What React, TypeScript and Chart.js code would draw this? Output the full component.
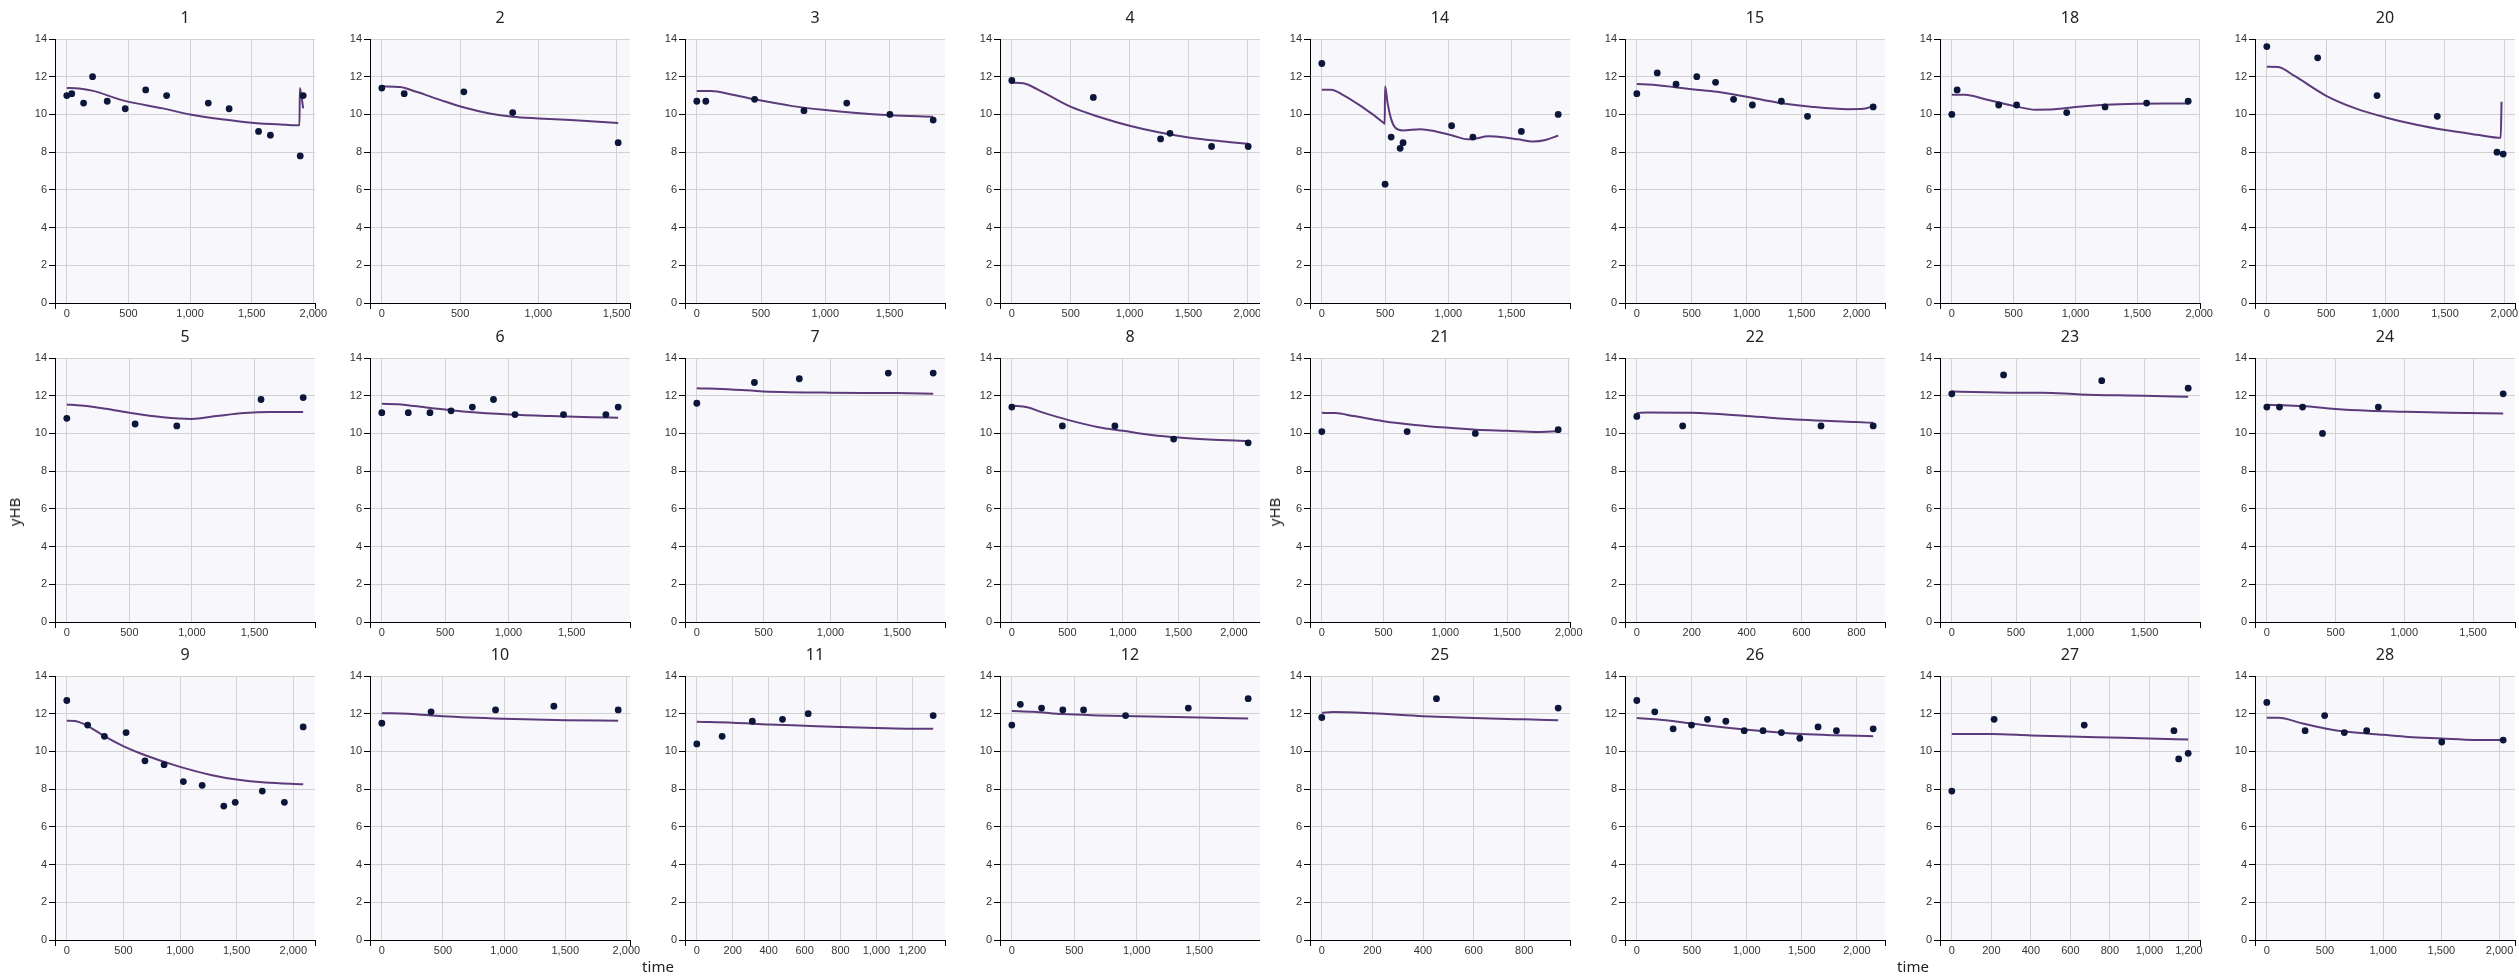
import React, { useEffect, useRef } from "react";
import { Chart, registerables } from "chart.js";

Chart.register(...registerables);

// ---------- DATA ----------
const panelIds = [
  "1", "2", "3", "4", "14", "15", "18", "20",
  "5", "6", "7", "8", "21", "22", "23", "24",
  "9", "10", "11", "12", "25", "26", "27", "28",
];

const xTickStep = [
  500, 500, 500, 500, 500, 500, 500, 500,
  500, 500, 500, 500, 500, 200, 500, 500,
  500, 500, 200, 500, 200, 500, 200, 500,
];

const yTickValues = [0, 2, 4, 6, 8, 10, 12, 14];

const obsTime: number[][] = [
  [0, 40, 136, 209, 328, 474, 640, 810, 1148, 1317, 1556, 1652, 1894, 1918],
  [0, 143, 524, 836, 1510],
  [0, 70, 450, 834, 1167, 1503, 1840],
  [0, 692, 1263, 1343, 1696, 2007],
  [0, 500, 548, 619, 642, 1026, 1194, 1577, 1868],
  [0, 186, 357, 546, 717, 881, 1052, 1316, 1554, 2152],
  [0, 43, 379, 524, 929, 1239, 1575, 1911],
  [0, 428, 928, 1435, 1938, 1990],
  [0, 546, 879, 1552, 1889],
  [0, 209, 380, 547, 715, 882, 1052, 1435, 1770, 1867],
  [0, 431, 767, 1433, 1769],
  [0, 455, 928, 1457, 2128],
  [0, 691, 1243, 1914],
  [0, 167, 671, 861],
  [0, 403, 1167, 1840],
  [0, 92, 260, 405, 811, 1719],
  [0, 184, 332, 523, 690, 859, 1029, 1195, 1386, 1487, 1726, 1921, 2087],
  [0, 403, 930, 1407, 1933],
  [0, 141, 309, 477, 620, 1316],
  [0, 68, 238, 408, 574, 910, 1412, 1891],
  [0, 453, 934],
  [0, 163, 330, 497, 642, 809, 976, 1147, 1314, 1481, 1647, 1814, 2148],
  [0, 214, 670, 1124, 1148, 1196],
  [0, 329, 497, 666, 858, 1503, 2031],
];

const obsHB: number[][] = [
  [11.0, 11.1, 10.6, 12.0, 10.7, 10.3, 11.3, 11.0, 10.6, 10.3, 9.1, 8.9, 7.8, 11.0],
  [11.4, 11.1, 11.2, 10.1, 8.5],
  [10.7, 10.7, 10.8, 10.2, 10.6, 10.0, 9.7],
  [11.8, 10.9, 8.7, 9.0, 8.3, 8.3],
  [12.7, 6.3, 8.8, 8.2, 8.5, 9.4, 8.8, 9.1, 10.0],
  [11.1, 12.2, 11.6, 12.0, 11.7, 10.8, 10.5, 10.7, 9.9, 10.4],
  [10.0, 11.3, 10.5, 10.5, 10.1, 10.4, 10.6, 10.7],
  [13.6, 13.0, 11.0, 9.9, 8.0, 7.9],
  [10.8, 10.5, 10.4, 11.8, 11.9],
  [11.1, 11.1, 11.1, 11.2, 11.4, 11.8, 11.0, 11.0, 11.0, 11.4],
  [11.6, 12.7, 12.9, 13.2, 13.2],
  [11.4, 10.4, 10.4, 9.7, 9.5],
  [10.1, 10.1, 10.0, 10.2],
  [10.9, 10.4, 10.4, 10.4],
  [12.1, 13.1, 12.8, 12.4],
  [11.4, 11.4, 11.4, 10.0, 11.4, 12.1],
  [12.7, 11.4, 10.8, 11.0, 9.5, 9.3, 8.4, 8.2, 7.1, 7.3, 7.9, 7.3, 11.3],
  [11.5, 12.1, 12.2, 12.4, 12.2],
  [10.4, 10.8, 11.6, 11.7, 12.0, 11.9],
  [11.4, 12.5, 12.3, 12.2, 12.2, 11.9, 12.3, 12.8],
  [11.8, 12.8, 12.3],
  [12.7, 12.1, 11.2, 11.4, 11.7, 11.6, 11.1, 11.1, 11.0, 10.7, 11.3, 11.1, 11.2],
  [7.9, 11.7, 11.4, 11.1, 9.6, 9.9],
  [12.6, 11.1, 11.9, 11.0, 11.1, 10.5, 10.6],
];

const predTime: number[][] = [
  [0, 100, 215, 448, 780, 1000, 1277, 1500, 1775, 1888, 1891, 1918],
  [0, 117, 220, 376, 532, 688, 836, 1000, 1207, 1510],
  [0, 111, 270, 450, 745, 1002, 1221, 1506, 1840],
  [0, 97, 218, 498, 737, 1000, 1256, 1502, 1775, 2007],
  [0, 74, 155, 316, 487, 497, 500, 520, 548, 580, 640, 780, 900, 1026, 1150, 1200, 1316, 1450, 1550, 1671, 1768, 1868],
  [0, 171, 502, 729, 1000, 1286, 1584, 1918, 2067, 2152],
  [0, 105, 270, 468, 682, 830, 998, 1239, 1499, 1720, 1911],
  [0, 96, 233, 500, 747, 1000, 1260, 1500, 1774, 1969, 1976],
  [0, 114, 310, 507, 768, 997, 1193, 1422, 1618, 1889],
  [0, 126, 367, 689, 1011, 1332, 1654, 1867],
  [0, 260, 500, 999, 1500, 1769],
  [0, 139, 268, 503, 782, 1002, 1259, 1501, 1772, 2128],
  [0, 109, 258, 499, 754, 1002, 1250, 1501, 1745, 1914],
  [0, 39, 200, 400, 599, 800, 861],
  [0, 501, 704, 999, 1500, 1840],
  [0, 115, 260, 500, 737, 1000, 1328, 1719],
  [0, 72, 181, 343, 498, 668, 1000, 1282, 1498, 1751, 2087],
  [0, 213, 500, 1000, 1500, 1933],
  [0, 200, 400, 600, 800, 1000, 1200, 1316],
  [0, 173, 408, 694, 1001, 1500, 1891],
  [0, 45, 200, 400, 600, 800, 934],
  [0, 171, 501, 801, 1002, 1321, 1499, 1766, 2000, 2148],
  [0, 200, 400, 600, 800, 1000, 1196],
  [0, 98, 308, 501, 694, 1002, 1219, 1499, 1779, 2025],
];

const predHB: number[][] = [
  [11.4, 11.38, 11.25, 10.76, 10.32, 10.0, 9.73, 9.56, 9.45, 9.42, 11.4, 10.32],
  [11.49, 11.45, 11.2, 10.76, 10.35, 10.05, 9.88, 9.79, 9.7, 9.54],
  [11.24, 11.24, 11.06, 10.8, 10.44, 10.23, 10.09, 9.96, 9.88],
  [11.68, 11.65, 11.33, 10.41, 9.88, 9.4, 9.04, 8.78, 8.58, 8.44],
  [11.31, 11.31, 11.08, 10.41, 9.56, 9.5, 11.49, 10.6, 9.75, 9.3, 9.15, 9.22, 9.1, 8.9, 8.68, 8.7, 8.84, 8.78, 8.68, 8.56, 8.64, 8.88],
  [11.61, 11.56, 11.33, 11.2, 10.94, 10.62, 10.41, 10.28, 10.3, 10.44],
  [11.04, 11.04, 10.81, 10.5, 10.25, 10.27, 10.39, 10.51, 10.57, 10.58, 10.58],
  [12.53, 12.51, 12.04, 10.99, 10.32, 9.84, 9.45, 9.17, 8.92, 8.76, 10.67],
  [11.54, 11.48, 11.31, 11.09, 10.86, 10.77, 10.92, 11.08, 11.13, 11.13],
  [11.57, 11.55, 11.36, 11.13, 11.0, 10.92, 10.86, 10.83],
  [12.4, 12.33, 12.23, 12.16, 12.14, 12.1],
  [11.48, 11.39, 11.13, 10.72, 10.33, 10.14, 9.92, 9.78, 9.68, 9.59],
  [11.09, 11.08, 10.92, 10.65, 10.45, 10.31, 10.2, 10.14, 10.08, 10.12],
  [11.08, 11.11, 11.09, 10.92, 10.72, 10.6, 10.56],
  [12.23, 12.16, 12.16, 12.07, 12.0, 11.94],
  [11.52, 11.5, 11.45, 11.29, 11.2, 11.15, 11.09, 11.06],
  [11.63, 11.61, 11.36, 10.77, 10.28, 9.85, 9.18, 8.74, 8.51, 8.35, 8.26],
  [12.03, 12.0, 11.86, 11.73, 11.66, 11.63],
  [11.57, 11.52, 11.43, 11.36, 11.29, 11.24, 11.2, 11.2],
  [12.14, 12.1, 11.98, 11.91, 11.86, 11.8, 11.75],
  [12.05, 12.09, 12.02, 11.87, 11.77, 11.7, 11.66],
  [11.77, 11.71, 11.48, 11.27, 11.15, 10.99, 10.92, 10.86, 10.83, 10.81],
  [10.93, 10.92, 10.85, 10.79, 10.74, 10.69, 10.63],
  [11.78, 11.78, 11.48, 11.22, 11.04, 10.88, 10.77, 10.69, 10.61, 10.6],
];

// ---------- LAYOUT / STYLE ----------
const TICK_FONT = "'Liberation Sans', Arial, sans-serif";
const TITLE_FONT = "'Noto Sans', 'Open Sans', sans-serif";
const Y_AXIS_W = 50;
const PLOT_W = 260;
const PLOT_H = 264;
const RIGHT_PAD = 40;
const TOP_SPACE = 39;
const X_AXIS_H = 30;
const CANVAS_W = Y_AXIS_W + PLOT_W + RIGHT_PAD;
const CANVAS_H = TOP_SPACE + PLOT_H + X_AXIS_H;
const ROW_PLOT_TOPS = [39, 358, 676];
const HALF_LEFTS = [0, 1260];
const HALF_WIDTHS = [1260, 1259];
const HALF_AXIS_OFFSET = [55, 50];
const COL_PITCH = 315;

const bgPlugin = {
  id: "plotBg",
  beforeDraw(chart: any) {
    const { ctx, chartArea } = chart;
    ctx.save();
    ctx.fillStyle = "#f8f8fc";
    ctx.fillRect(chartArea.left, chartArea.top, chartArea.right - chartArea.left, chartArea.bottom - chartArea.top);
    ctx.restore();
  },
};

const endTickPlugin = {
  id: "endTicks",
  afterDraw(chart: any) {
    const { ctx, chartArea } = chart;
    ctx.save();
    ctx.strokeStyle = "#000";
    ctx.lineWidth = 1;
    const b = Math.round(chartArea.bottom);
    [chartArea.left, chartArea.right].forEach((x: number) => {
      const px = Math.round(x) + 0.5;
      ctx.beginPath();
      ctx.moveTo(px, b);
      ctx.lineTo(px, b + 6);
      ctx.stroke();
    });
    ctx.restore();
  },
};

function Panel({ idx, left, top }: { idx: number; left: number; top: number }) {
  const ref = useRef<HTMLCanvasElement>(null);
  useEffect(() => {
    const canvas = ref.current;
    if (!canvas) return;
    const maxT = Math.max(...obsTime[idx], ...predTime[idx]);
    const xMin = -0.05 * maxT;
    const xMax = 1.05 * maxT;
    const step = xTickStep[idx];
    const chart = new Chart(canvas, {
      type: "scatter",
      data: {
        datasets: [
          {
            label: "observed",
            data: obsTime[idx].map((t, i) => ({ x: t, y: obsHB[idx][i] })),
            showLine: false,
            pointRadius: 3.4,
            pointHoverRadius: 3.4,
            pointBackgroundColor: "#0b1638",
            pointBorderColor: "#0b1638",
            pointBorderWidth: 0,
          },
          {
            label: "predicted",
            data: predTime[idx].map((t, i) => ({ x: t, y: predHB[idx][i] })),
            showLine: true,
            pointRadius: 0,
            pointHoverRadius: 0,
            borderColor: "#5c3b7a",
            borderWidth: 2,
            cubicInterpolationMode: "monotone",
            fill: false,
          },
        ],
      } as any,
      options: {
        responsive: false,
        animation: false,
        devicePixelRatio: 1,
        events: [],
        layout: { padding: { top: 0, left: 0, right: RIGHT_PAD, bottom: 0 } },
        plugins: {
          legend: { display: false },
          tooltip: { enabled: false },
          title: {
            display: true,
            text: panelIds[idx],
            fullSize: false,
            color: "#222",
            font: { family: TITLE_FONT, size: 16, weight: "normal" as any, lineHeight: 1.2 },
            padding: { top: 8.4, bottom: 11.4 },
          },
        },
        scales: {
          x: {
            type: "linear",
            min: xMin,
            max: xMax,
            afterBuildTicks: (axis: any) => {
              const ticks: { value: number }[] = [];
              for (let v = Math.ceil(axis.min / step) * step + 0; v <= axis.max + 1e-9; v += step) {
                ticks.push({ value: v + 0 });
              }
              axis.ticks = ticks;
            },
            afterFit: (s: any) => {
              s.height = X_AXIS_H;
            },
            grid: { color: "#d2d2d2", drawTicks: false, lineWidth: 1 },
            border: { display: true, color: "#000", width: 1 },
            ticks: {
              padding: 4,
              color: "#333",
              autoSkip: false,
              maxRotation: 0,
              font: { family: TICK_FONT, size: 11 },
              callback: (v: any) => Number(v).toLocaleString("en-US"),
            },
          },
          y: {
            type: "linear",
            min: yTickValues[0],
            max: yTickValues[yTickValues.length - 1],
            afterBuildTicks: (axis: any) => {
              axis.ticks = yTickValues.map((v) => ({ value: v }));
            },
            afterFit: (s: any) => {
              s.width = Y_AXIS_W;
            },
            grid: { color: "#d2d2d2", tickColor: "#000", tickLength: 6, lineWidth: 1 },
            border: { display: true, color: "#000", width: 1 },
            ticks: {
              padding: 2,
              color: "#333",
              font: { family: TICK_FONT, size: 11 },
            },
          },
        },
      } as any,
      plugins: [bgPlugin, endTickPlugin],
    });
    return () => chart.destroy();
  }, [idx]);
  return (
    <canvas
      ref={ref}
      width={CANVAS_W}
      height={CANVAS_H}
      style={{ position: "absolute", left, top, width: CANVAS_W, height: CANVAS_H }}
    />
  );
}

export default function App() {
  const halves = [0, 1];
  return (
    <div
      style={{
        position: "absolute",
        left: 0,
        top: 0,
        width: 2519,
        height: 976,
        background: "#fff",
        overflow: "hidden",
      }}
    >
      {halves.map((h) => (
        <div
          key={h}
          style={{
            position: "absolute",
            left: HALF_LEFTS[h],
            top: 0,
            width: HALF_WIDTHS[h],
            height: 976,
            overflow: "hidden",
          }}
        >
          {[0, 1, 2].map((r) =>
            [0, 1, 2, 3].map((c) => {
              const idx = r * 8 + h * 4 + c;
              const plotLeft = HALF_AXIS_OFFSET[h] + c * COL_PITCH;
              return (
                <Panel
                  key={idx}
                  idx={idx}
                  left={plotLeft - Y_AXIS_W}
                  top={ROW_PLOT_TOPS[r] - TOP_SPACE}
                />
              );
            })
          )}
          <div
            style={{
              position: "absolute",
              left: 14,
              top: 512,
              transform: "translate(-50%, -50%) rotate(-90deg)",
              fontFamily: TITLE_FONT,
              fontSize: 15,
              color: "#222",
              whiteSpace: "nowrap",
            }}
          >
            yHB
          </div>
          <div
            style={{
              position: "absolute",
              left: h === 0 ? 658 : 653,
              top: 966,
              transform: "translate(-50%, -50%)",
              fontFamily: TITLE_FONT,
              fontSize: 15,
              color: "#222",
              whiteSpace: "nowrap",
            }}
          >
            time
          </div>
        </div>
      ))}
    </div>
  );
}
